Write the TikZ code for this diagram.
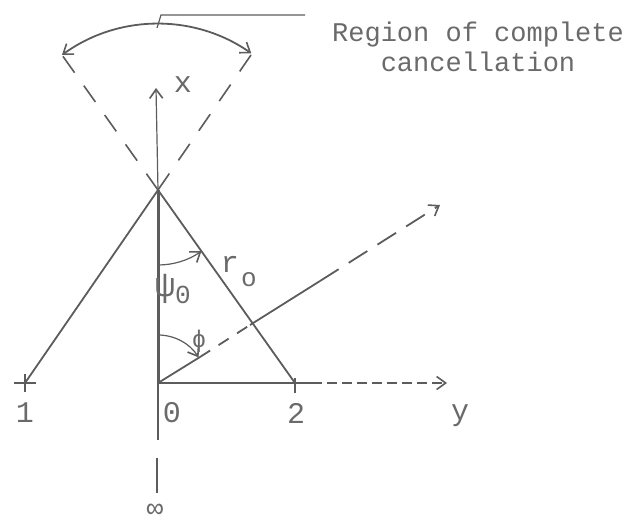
\documentclass[tikz,border=0pt]{standalone}
\usepackage{fontspec}
\setmonofont{Liberation Mono}
\usetikzlibrary{arrows.meta}
\definecolor{ink}{HTML}{5C5C5C}
\definecolor{txt}{HTML}{6A6A6A}
\begin{document}
\begin{tikzpicture}[x=1pt,y=-1pt,
  thick line/.style={draw=ink, line width=3pt},
  ln/.style={draw=ink, line width=1.8pt},
  thinln/.style={draw=ink, line width=1.2pt},
  dsh/.style={draw=ink, line width=1.6pt, dash pattern=on 20pt off 16pt},
  fine dash/.style={draw=ink, line width=1.1pt, dash pattern=on 10pt off 5pt},
  lbl/.style={text=txt, font=\ttfamily\fontsize{30}{30}\selectfont, inner sep=0pt},
  txtlbl/.style={text=txt, font=\ttfamily\fontsize{27}{30}\selectfont, inner sep=0pt, align=center},
  barb/.style={-{Straight Barb[length=9pt,width=13pt,line width=1.6pt]}},
  dbarb/.style={{Straight Barb[length=9pt,width=13pt,line width=1.6pt]}-{Straight Barb[length=9pt,width=13pt,line width=1.6pt]}}
]
\useasboundingbox (0,0) rectangle (633,527);
% key points
\coordinate (O) at (158,383);
\coordinate (A) at (158,190);
\coordinate (P1) at (25,383);
\coordinate (P2) at (295,383);
\coordinate (Xtop) at (156,88);
\coordinate (Yend) at (447,383);
\coordinate (Ymid) at (312,383);
\coordinate (Dn1) at (158,440);
\coordinate (Dn2) at (157,458);
\coordinate (Dn3) at (157,493);
\coordinate (UL) at (62,55);
\coordinate (UR) at (251,55);
\coordinate (R1) at (200,357);
\coordinate (R2) at (250,325);
\coordinate (R3) at (320,281);
\coordinate (R) at (440,205);
\coordinate (L0) at (157,28);
\coordinate (L1) at (161,15);
\coordinate (L2) at (305,15);
\coordinate (T1a) at (14,383);
\coordinate (T1b) at (36,383);
\coordinate (T1c) at (25,374);
\coordinate (T1d) at (25,392);
\coordinate (T2a) at (295,378);
\coordinate (T2b) at (295,393);
% triangle sides
\draw[ln] (P1) -- (A) -- (P2);
% x axis
\draw[thick line] (O) -- (A);
\draw[thinln, barb] (A) -- (Xtop);
% below origin
\draw[thinln] (O) -- (Dn1);
\draw[thinln] (Dn2) -- (Dn3);
% y axis
\draw[thinln] (O) -- (Ymid);
\draw[fine dash, barb] (Ymid) -- (Yend);
% ticks
\draw[thinln] (T1a) -- (T1b);
\draw[thinln] (T1c) -- (T1d);
\draw[thinln] (T2a) -- (T2b);
% upper dashed extensions
\draw[dsh] (A) -- (UL);
\draw[dsh] (A) -- (UR);
% region arc
\draw[ln, dbarb] (UL) arc[start angle=-126, end angle=-55, radius=163];
\draw[thinln] (L0) -- (L1) -- (L2);
% ray
\draw[ln] (O) -- (R1);
\draw[ln, dash pattern=on 12pt off 10pt] (R1) -- (R2);
\draw[ln] (R2) -- (R3);
\draw[ln, dash pattern=on 22pt off 12pt, barb] (R3) -- (R);
% angle arcs
\draw[thinln, barb] (A) ++(0,75) arc[start angle=90, end angle=54.6, radius=75];
\draw[thinln, barb] (O) ++(0,-48) arc[start angle=-90, end angle=-32.3, radius=48];
% labels
\node[lbl] (lx) at (183,85) {x};
\node[txtlbl] (ltext) at (478,47) {Region of complete\\cancellation};
\node[lbl] (l1) at (25,413) {1};
\node[lbl] (l0) at (172,413) {0};
\node[lbl] (l2) at (296,413) {2};
\node[lbl] (ly) at (460,416) {y};
\node[lbl, font=\ttfamily\fontsize{28}{28}\selectfont] (linf) at (155,511) {∞};
\node[lbl] (lr) at (230,264) {r};
\node[lbl, font=\ttfamily\fontsize{26}{26}\selectfont] (lro) at (249,280) {o};
\node[lbl, font=\ttfamily\fontsize{34}{34}\selectfont] (lpsi) at (165,289) {ψ};
\node[lbl, font=\ttfamily\fontsize{26}{26}\selectfont] (lpsi0) at (183,295) {0};
\node[lbl, font=\ttfamily\fontsize{24}{24}\selectfont] (lphi) at (199,341) {ϕ};
\end{tikzpicture}
\end{document}
